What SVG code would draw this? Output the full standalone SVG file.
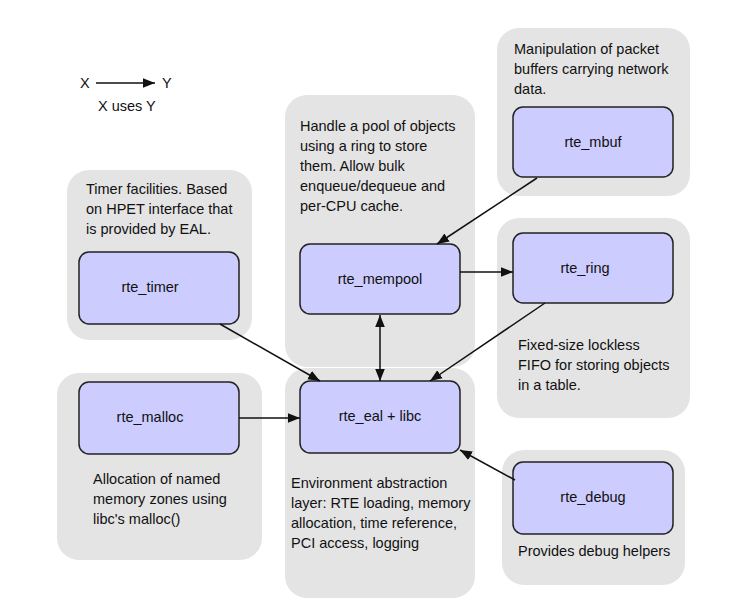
<svg xmlns="http://www.w3.org/2000/svg" width="742" height="613" viewBox="0 0 742 613">
<style>
.c{fill:#e4e4e4;stroke:none}
.n{fill:#ccccff;stroke:#222;stroke-width:1.5}
text{font-family:"Liberation Sans",Arial,sans-serif;font-size:14.5px;fill:#111}
.m{text-anchor:middle}
.e{stroke:#111;stroke-width:1.5;fill:none;marker-end:url(#a)}
</style>
<defs><marker id="a" viewBox="0 0 10 10" refX="10" refY="5" markerWidth="8" markerHeight="8" orient="auto-start-reverse"><path d="M0,1 L10,5 L0,9 z" fill="#111"/></marker></defs>
<rect width="742" height="613" fill="#fff"/>
<g id="legend"><text x="80" y="88">X</text><text x="162" y="88">Y</text><text x="98" y="111">X uses Y</text></g>
<g id="mbuf"><rect class="c" x="497" y="28" width="193" height="168" rx="22"/><text x="514" y="54">Manipulation of packet</text><text x="514" y="74">buffers carrying network</text><text x="514" y="94">data.</text><rect class="n" x="513" y="107" width="160" height="70" rx="10"/><text class="m" x="593" y="147">rte_mbuf</text></g>
<g id="mempool"><rect class="c" x="285" y="95" width="190" height="272" rx="22"/><text x="300" y="131">Handle a pool of objects</text><text x="300" y="151">using a ring to store</text><text x="300" y="171">them. Allow bulk</text><text x="300" y="191">enqueue/dequeue and</text><text x="300" y="211">per-CPU cache.</text><rect class="n" x="300" y="244" width="160" height="70" rx="10"/><text class="m" x="380" y="284">rte_mempool</text></g>
<g id="timer"><rect class="c" x="67" y="170" width="185" height="170" rx="22"/><text x="86" y="194">Timer facilities. Based</text><text x="86" y="214">on HPET interface that</text><text x="86" y="234">is provided by EAL.</text><rect class="n" x="79" y="252" width="160" height="72" rx="10"/><text class="m" x="150" y="292">rte_timer</text></g>
<g id="ring"><rect class="c" x="497" y="218" width="193" height="200" rx="22"/><rect class="n" x="513" y="233" width="160" height="70" rx="10"/><text class="m" x="585" y="273">rte_ring</text><text x="518" y="350">Fixed-size lockless</text><text x="518" y="370">FIFO for storing objects</text><text x="518" y="390">in a table.</text></g>
<g id="malloc"><rect class="c" x="57" y="373" width="205" height="187" rx="22"/><rect class="n" x="79" y="382" width="160" height="72" rx="10"/><text class="m" x="150" y="422">rte_malloc</text><text x="93" y="484">Allocation of named</text><text x="93" y="504">memory zones using</text><text x="93" y="524">libc's malloc()</text></g>
<g id="eal"><rect class="c" x="285" y="368" width="190" height="230" rx="22"/><rect class="n" x="300" y="381" width="160" height="72" rx="10"/><text class="m" x="380" y="421">rte_eal + libc</text><text x="291" y="488">Environment abstraction</text><text x="291" y="508">layer: RTE loading, memory</text><text x="291" y="528">allocation, time reference,</text><text x="291" y="548">PCI access, logging</text></g>
<g id="debug"><rect class="c" x="502" y="450" width="183" height="135" rx="22"/><rect class="n" x="513" y="462" width="160" height="72" rx="10"/><text class="m" x="593" y="502">rte_debug</text><text x="518" y="556">Provides debug helpers</text></g>
<g id="connectors">
<path class="e" d="M96,83 H155"/>
<path class="e" d="M537,178 L437,244"/>
<path class="e" d="M460,272 H513"/>
<path class="e" d="M380,381 V315" style="marker-start:url(#a)"/>
<path class="e" d="M220,324 L320,381"/>
<path class="e" d="M545,303 L430,381"/>
<path class="e" d="M239,418 H300"/>
<path class="e" d="M515,480 L460,450"/>
</g>
</svg>
